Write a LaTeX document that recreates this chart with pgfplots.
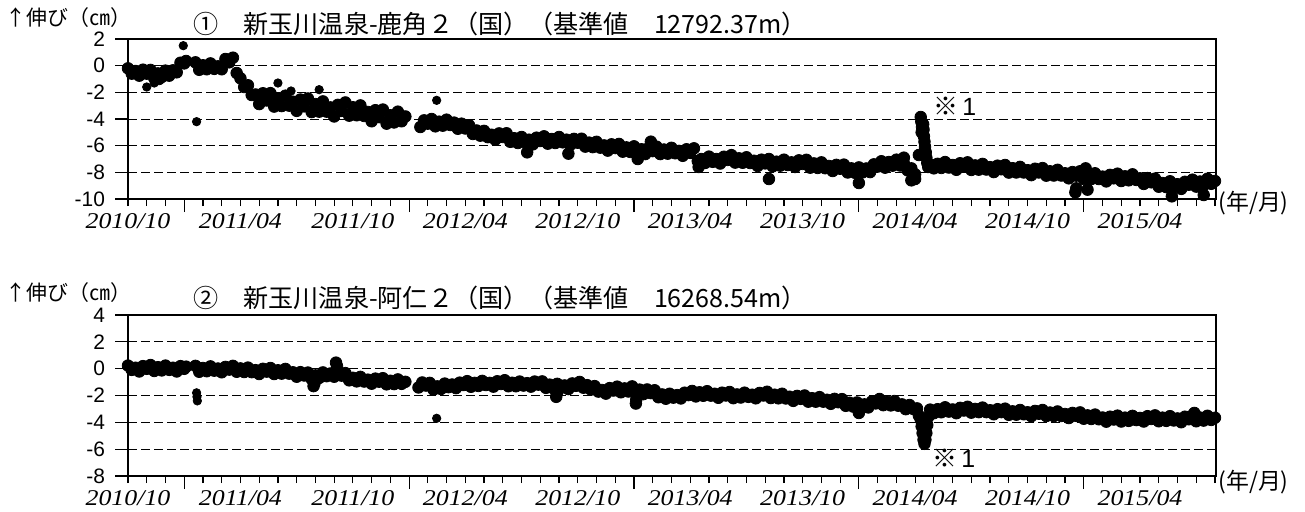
\documentclass[border=0pt]{standalone}
\usepackage{pgfplots}
\pgfplotsset{compat=1.18}
\usepackage{graphicx}
\usepackage{fontspec}
\setmainfont{Liberation Sans}
\newfontfamily\jp{Noto Sans CJK JP}
\newfontfamily\tms{Liberation Serif}
\newcommand\xl[1]{\scalebox{1.15}[1]{\tms\itshape #1}}

\pgfplotsset{
 panel/.style={
  scale only axis, width=543.85bp, anchor=north west,
  xmin=0, xmax=58.04,
  axis line style={line width=1.1bp},
  tick align=outside,
  xtick pos=left, ytick pos=left,
  xtick={3,15,27,39,51},
  xticklabels={},
  minor xtick={1,2,...,58},
  extra x ticks={0,6,...,54},
  extra x tick labels={\xl{2010/10},\xl{2011/04},\xl{2011/10},\xl{2012/04},\xl{2012/10},\xl{2013/04},\xl{2013/10},\xl{2014/04},\xl{2014/10},\xl{2015/04}},
  extra x tick style={major tick length=3.5bp, grid=none, xticklabel style={font=\fontsize{11.3}{12}\selectfont}},
  major tick length=6.5bp, minor tick length=3.5bp,
  every tick/.style={black, line width=0.6bp},
  ymajorgrids,
  major grid style={black, line width=0.5bp, dash pattern=on 4.5bp off 2bp},
  xticklabel style={font=\fontsize{11.3}{12}\selectfont},
  yticklabel style={font=\fontsize{10.5}{11}\selectfont, xshift=-1.5bp},
  clip=false,
 },
 dots/.style={only marks, mark=*, mark size=2.9bp, mark options={draw=black, fill=black}},
 odots/.style={only marks, mark=*, mark size=2.1bp, mark options={draw=black, fill=black}},
}

\begin{document}
\begin{tikzpicture}
\path[use as bounding box] (0,0) rectangle (652.5bp,-256bp);

% ---------- panel 1 ----------
\begin{axis}[panel, at={(64bp,-19.5bp)}, height=80bp,
  ymin=-10, ymax=2, ytick={-10,-8,...,2}, yticklabels={-10,-8,-6,-4,-2,0,2}]
\addplot[dots] coordinates {
(0.0,-0.20)(0.2,-0.60)(0.4,-0.40)(0.6,-0.75)(0.8,-0.30)(1.0,-0.60)(1.2,-0.32)(1.4,-0.93)
(1.6,-0.58)(1.65,-1.00)(1.8,-0.85)(2.0,-0.37)(2.2,-0.75)(2.4,-0.35)(2.6,-0.50)(2.8,0.22)(3.0,0.17)(3.1,0.35)
(3.6,0.25)(3.8,-0.31)(4.0,0.03)(4.2,-0.27)(4.4,0.17)(4.6,-0.24)(4.8,-0.05)(5.0,-0.27)(5.2,0.50)
(5.4,0.25)(5.6,0.60)(5.8,-0.55)(6.0,-0.95)(6.2,-1.60)(6.4,-1.47)(6.6,-2.20)(6.8,-2.16)(7.0,-2.88)(7.2,-2.07)
(7.4,-2.61)(7.6,-2.06)(7.8,-3.07)(8.0,-2.47)(8.2,-3.03)(8.4,-2.25)(8.6,-3.00)(8.8,-2.70)
(9.0,-3.39)(9.2,-2.54)(9.4,-3.05)(9.6,-2.46)(9.8,-3.48)(10.0,-2.88)(10.2,-3.45)(10.4,-2.68)(10.6,-3.45)
(10.8,-3.13)(11.0,-3.81)(11.2,-2.94)(11.4,-3.39)(11.6,-2.76)(11.8,-3.75)(12.0,-3.12)(12.2,-3.72)(12.4,-2.98)(12.6,-3.77)
(12.8,-3.47)(13.0,-4.17)(13.2,-3.34)(13.4,-3.86)(13.6,-3.29)(13.8,-4.35)(14.0,-3.72)(14.2,-4.26)(14.4,-3.45)(14.6,-4.17)
(14.8,-3.81)
(15.6,-4.60)(15.8,-4.10)(16.0,-4.35)(16.2,-4.00)(16.4,-4.55)(16.6,-4.20)(16.8,-4.50)(17.0,-4.05)(17.2,-4.45)
(17.4,-4.27)(17.6,-4.73)(17.8,-4.35)(18.0,-4.71)(18.2,-4.47)(18.4,-5.12)(18.6,-4.86)(18.8,-5.25)(19.0,-4.89)(19.2,-5.36)
(19.4,-5.18)(19.6,-5.55)(19.8,-5.08)(20.0,-5.35)(20.2,-5.07)(20.4,-5.71)(20.6,-5.44)(20.8,-5.80)(21.0,-5.35)(21.2,-5.75)
(21.3,-6.50)(21.4,-5.55)(21.6,-5.90)(21.8,-5.40)(22.0,-5.65)(22.2,-5.30)(22.4,-5.85)(22.6,-5.50)(22.8,-5.80)(23.0,-5.35)
(23.2,-5.75)(23.4,-5.55)(23.5,-6.60)(23.6,-5.94)(23.8,-5.49)(24.0,-5.78)(24.2,-5.48)(24.4,-6.07)(24.6,-5.77)(24.8,-6.11)
(25.0,-5.71)(25.2,-6.15)(25.4,-5.98)(25.6,-6.37)(25.8,-5.90)(26.0,-6.18)(26.2,-5.87)(26.4,-6.45)(26.6,-6.13)(26.8,-6.47)
(27.0,-6.05)(27.2,-6.46)(27.2,-7.00)(27.4,-6.27)(27.6,-6.63)(27.8,-6.15)(27.9,-5.70)(28.0,-6.41)(28.2,-6.07)(28.4,-6.63)
(28.6,-6.29)(28.8,-6.60)(29.0,-6.16)(29.2,-6.57)(29.4,-6.39)(29.6,-6.76)(29.8,-6.27)(30.0,-6.54)(30.2,-6.20)(30.4,-7.15)
(30.45,-7.60)(30.6,-7.00)(30.8,-7.29)(31.0,-6.82)(31.2,-7.21)(31.4,-7.00)(31.6,-7.34)(31.8,-6.83)(32.0,-7.07)(32.2,-6.71)
(32.4,-7.27)(32.6,-6.95)(32.8,-7.28)(33.0,-6.87)(33.2,-7.30)(33.4,-7.13)(33.6,-7.52)(33.8,-7.05)(34.0,-7.33)(34.2,-7.00)
(34.2,-8.50)(34.4,-7.55)(34.6,-7.20)(34.8,-7.50)(35.0,-7.05)(35.2,-7.45)(35.4,-7.25)(35.6,-7.60)(35.8,-7.10)(36.0,-7.37)
(36.2,-7.06)(36.4,-7.65)(36.6,-7.33)(36.8,-7.67)(37.0,-7.25)(37.2,-7.69)(37.4,-7.52)(37.6,-7.90)(37.8,-7.44)(38.0,-7.73)
(38.2,-7.42)(38.4,-8.01)(38.6,-7.70)(38.8,-8.04)(39.0,-7.63)(39.0,-8.80)(39.2,-8.00)(39.4,-7.71)(39.6,-7.98)(39.8,-7.40)
(40.0,-7.57)(40.2,-7.17)(40.4,-7.65)(40.6,-7.23)(40.8,-7.50)(41.0,-7.05)(41.2,-7.49)(41.4,-7.33)(41.4,-6.90)(41.6,-7.85)
(41.8,-7.70)(41.8,-8.60)(42.0,-8.15)(42.0,-8.50)(42.2,-6.70)
(42.30,-3.85)(42.33,-4.20)(42.35,-5.00)(42.37,-4.60)(42.40,-5.00)(42.43,-4.40)(42.45,-4.80)(42.47,-5.30)(42.50,-5.70)
(42.53,-6.10)(42.57,-6.50)(42.60,-6.90)(42.65,-7.30)(42.70,-7.60)
(42.8,-7.40)(43.0,-7.70)(43.2,-7.36)(43.4,-7.67)(43.6,-7.23)(43.8,-7.64)(44.0,-7.45)(44.2,-7.81)(44.4,-7.32)(44.6,-7.58)
(44.8,-7.25)(45.0,-7.82)(45.2,-7.48)(45.4,-7.80)(45.6,-7.37)(45.8,-7.79)(46.0,-7.61)(46.2,-7.98)(46.4,-7.50)(46.6,-7.77)
(46.8,-7.45)(47.0,-8.02)(47.2,-7.69)(47.4,-8.01)(47.6,-7.59)(47.8,-8.01)(48.0,-7.84)(48.2,-8.21)(48.4,-7.73)(48.6,-8.01)
(48.8,-7.68)(49.0,-8.25)(49.2,-7.92)(49.4,-8.24)(49.6,-7.81)(49.8,-8.24)(50.0,-8.07)(50.2,-8.45)(50.4,-7.98)(50.55,-9.50)
(50.6,-8.25)(50.6,-9.20)(50.8,-7.92)(51.0,-8.50)(51.1,-7.70)(51.2,-8.17)(51.2,-9.30)(51.4,-8.50)(51.6,-8.07)(51.8,-8.50)
(52.0,-8.32)(52.2,-8.68)(52.4,-8.19)(52.6,-8.45)(52.8,-8.10)(53.0,-8.65)(53.2,-8.30)(53.4,-8.60)(53.6,-8.15)(53.8,-8.57)
(54.0,-8.45)(54.2,-8.87)(54.4,-8.43)(54.6,-8.75)(54.8,-8.47)(55.0,-9.08)(55.2,-8.80)(55.4,-9.11)(55.6,-8.67)(55.7,-9.80)
(55.8,-9.08)(56.0,-8.89)(56.2,-9.24)(56.4,-8.71)(56.6,-8.93)(56.8,-8.55)(57.0,-9.07)(57.2,-8.69)(57.4,-8.96)(57.4,-9.70)
(57.6,-8.48)(57.8,-8.86)(58.0,-8.65)
};
\addplot[odots] coordinates {
(1.0,-1.60)(1.4,-1.30)(2.95,1.50)(3.66,-4.20)(8.0,-1.30)(8.7,-1.90)(10.2,-1.80)(16.47,-2.60)
};
\end{axis}

% ---------- panel 2 ----------
\begin{axis}[panel, at={(64bp,-157.5bp)}, height=80.5bp,
  ymin=-8, ymax=4, ytick={-8,-6,...,4}, yticklabels={-8,-6,-4,-2,0,2,4}]
\addplot[dots] coordinates {
(0.0,0.23)(0.2,-0.09)(0.4,0.07)(0.6,-0.21)(0.8,0.19)(1.0,-0.01)(1.2,0.27)(1.4,-0.17)(1.6,0.11)(1.8,-0.13)
(2.0,0.23)(2.2,-0.09)(2.4,0.07)(2.6,-0.21)(2.8,0.19)(3.0,-0.01)(3.1,0.15)
(3.6,0.21)(3.8,-0.23)(4.0,0.05)(4.2,-0.19)(4.4,0.17)(4.6,-0.15)(4.8,0.01)(5.0,-0.27)(5.2,0.13)(5.4,-0.07)
(5.6,0.21)(5.8,-0.23)(6.0,0.02)(6.2,-0.25)(6.4,0.08)(6.6,-0.26)(6.8,-0.11)(7.0,-0.40)(7.2,-0.01)(7.4,-0.22)
(7.6,0.05)(7.8,-0.40)(8.0,-0.12)(8.2,-0.37)(8.4,-0.02)(8.6,-0.37)(8.8,-0.27)(9.0,-0.60)(9.2,-0.26)(9.4,-0.51)
(9.6,-0.29)(9.8,-0.78)(9.9,-1.30)(9.95,-1.10)(10.0,-0.50)(10.2,-0.69)(10.4,-0.28)(10.6,-0.56)(10.8,-0.36)(11.0,-0.60)
(11.1,0.45)(11.15,0.20)(11.2,-0.22)(11.4,-0.52)(11.6,-0.33)(11.8,-0.87)(12.0,-0.68)(12.2,-0.95)(12.4,-0.61)(12.6,-0.96)
(12.8,-0.82)(13.0,-1.12)(13.2,-0.74)(13.4,-0.97)(13.6,-0.71)(13.8,-1.17)(14.0,-0.90)(14.2,-1.15)(14.4,-0.80)(14.6,-1.13)
(14.8,-0.98)
(15.5,-1.40)(15.7,-1.03)(15.9,-1.26)(16.1,-1.06)(16.3,-1.56)(16.5,-1.32)(16.7,-1.51)(16.9,-1.11)(17.1,-1.38)
(17.3,-1.18)(17.5,-1.45)(17.7,-1.04)(17.9,-1.22)(18.1,-0.93)(18.3,-1.35)(18.5,-1.06)(18.7,-1.29)(18.9,-0.91)(19.1,-1.22)
(19.3,-1.06)(19.5,-1.34)(19.7,-0.94)(19.9,-1.14)(20.1,-0.86)(20.3,-1.31)(20.5,-1.05)(20.7,-1.31)(20.9,-0.96)(21.1,-1.26)
(21.3,-1.08)(21.5,-1.34)(21.7,-0.96)(21.9,-1.19)(22.1,-0.95)(22.3,-1.43)(22.5,-1.19)(22.7,-1.47)(22.85,-2.10)(22.9,-1.80)
(22.9,-1.13)(23.1,-1.43)(23.3,-1.25)(23.5,-1.52)(23.7,-1.10)(23.9,-1.28)(24.1,-0.99)(24.3,-1.42)(24.5,-1.23)(24.7,-1.56)
(24.9,-1.30)(25.1,-1.71)(25.3,-1.59)(25.5,-1.86)(25.7,-1.45)(25.9,-1.63)(26.1,-1.34)(26.3,-1.76)(26.5,-1.47)(26.7,-1.70)
(26.9,-1.32)(27.1,-2.60)(27.12,-2.30)(27.1,-1.67)(27.3,-1.56)(27.5,-1.90)(27.7,-1.55)(27.9,-1.82)(28.1,-1.61)(28.3,-2.13)
(28.5,-1.92)(28.7,-2.24)(28.9,-1.87)(29.1,-2.16)(29.3,-1.97)(29.5,-2.22)(29.7,-1.79)(29.9,-1.97)(30.1,-1.66)(30.3,-2.07)
(30.5,-1.76)(30.7,-2.02)(30.9,-1.68)(31.1,-2.01)(31.3,-1.87)(31.5,-2.17)(31.7,-1.79)(31.9,-2.00)(32.1,-1.74)(32.3,-2.20)
(32.5,-1.92)(32.7,-2.15)(32.9,-1.79)(33.1,-2.10)(33.3,-1.94)(33.5,-2.21)(33.7,-1.81)(33.9,-2.00)(34.1,-1.72)(34.3,-2.19)
(34.5,-1.94)(34.7,-2.21)(34.9,-1.87)(35.1,-2.22)(35.3,-2.09)(35.5,-2.40)(35.7,-2.03)(35.9,-2.25)(36.1,-2.00)(36.3,-2.46)
(36.5,-2.20)(36.7,-2.46)(36.9,-2.12)(37.1,-2.46)(37.3,-2.32)(37.5,-2.62)(37.7,-2.25)(37.9,-2.50)(38.1,-2.27)(38.3,-2.77)
(38.5,-2.54)(38.7,-2.83)(38.9,-2.52)(39.0,-3.30)(39.1,-2.87)(39.3,-2.66)(39.5,-2.89)(39.7,-2.44)(39.9,-2.59)(40.1,-2.26)
(40.3,-2.72)(40.5,-2.47)(40.7,-2.74)(40.9,-2.41)(41.1,-2.76)(41.3,-2.66)(41.5,-3.02)(41.7,-2.71)(41.9,-3.00)(42.1,-2.96)
(42.2,-3.50)(42.30,-3.80)(42.35,-4.30)(42.40,-4.80)(42.45,-5.30)(42.50,-5.60)(42.55,-5.30)(42.60,-4.80)(42.65,-4.20)(42.70,-3.60)
(42.8,-3.05)(43.0,-3.32)(43.2,-3.02)(43.4,-3.25)(43.6,-2.88)(43.8,-3.20)(44.0,-3.04)(44.2,-3.32)(44.4,-2.92)(44.6,-3.12)
(44.8,-2.84)(45.0,-3.28)(45.2,-3.00)(45.4,-3.24)(45.6,-2.90)(45.8,-3.24)(46.0,-3.10)(46.2,-3.40)(46.4,-3.02)(46.6,-3.24)
(46.8,-2.98)(47.0,-3.44)(47.2,-3.18)(47.4,-3.43)(47.6,-3.08)(47.8,-3.40)(48.0,-3.25)(48.2,-3.54)(48.4,-3.15)(48.6,-3.36)
(48.8,-3.08)(49.0,-3.53)(49.2,-3.27)(49.4,-3.53)(49.6,-3.19)(49.8,-3.53)(50.0,-3.38)(50.2,-3.68)(50.4,-3.30)(50.6,-3.52)
(50.8,-3.26)(51.0,-3.73)(51.2,-3.48)(51.4,-3.75)(51.6,-3.42)(51.8,-3.77)(52.0,-3.64)(52.2,-3.95)(52.4,-3.58)(52.6,-3.79)
(52.8,-3.50)(53.0,-3.94)(53.2,-3.65)(53.4,-3.89)(53.6,-3.52)(53.8,-3.83)(54.0,-3.67)(54.2,-3.94)(54.4,-3.54)(54.6,-3.75)
(54.8,-3.48)(55.0,-3.92)(55.2,-3.65)(55.4,-3.89)(55.6,-3.54)(55.8,-3.86)(56.0,-3.71)(56.2,-3.99)(56.4,-3.58)(56.6,-3.77)
(56.8,-3.49)(56.9,-3.30)(57.0,-3.92)(57.2,-3.64)(57.4,-3.87)(57.6,-3.51)(57.8,-3.82)(58.0,-3.66)
};
\addplot[odots] coordinates {
(3.66,-1.80)(3.68,-2.10)(3.70,-2.40)(16.47,-3.70)
};
\end{axis}

% ---------- texts ----------
\node[anchor=west, inner sep=0] at (2.5bp,-8.75bp) {\jp\fontsize{10.5}{10.5}\selectfont ↑伸び（㎝）};
\node[anchor=west, inner sep=0] at (96.5bp,-12bp) {\jp\fontsize{12.6}{12.6}\selectfont ①\quad 新玉川温泉-鹿角２（国）（基準値\quad 12792.37m）};
\node[anchor=west, inner sep=0] at (466.5bp,-53bp) {\jp\fontsize{12.5}{12.5}\selectfont ※\,\textrm{1}};
\node[anchor=west, inner sep=0] at (609bp,-101.5bp) {\jp\fontsize{11.5}{11.5}\selectfont (年/月)};

\node[anchor=west, inner sep=0] at (2.5bp,-146.25bp) {\jp\fontsize{10.5}{10.5}\selectfont ↑伸び（㎝）};
\node[anchor=west, inner sep=0] at (96.5bp,-149bp) {\jp\fontsize{12.6}{12.6}\selectfont ②\quad 新玉川温泉-阿仁２（国）（基準値\quad 16268.54m）};
\node[anchor=west, inner sep=0] at (466bp,-229bp) {\jp\fontsize{12.5}{12.5}\selectfont ※\,\textrm{1}};
\node[anchor=west, inner sep=0] at (609bp,-241bp) {\jp\fontsize{11.5}{11.5}\selectfont (年/月)};
\end{tikzpicture}
\end{document}
